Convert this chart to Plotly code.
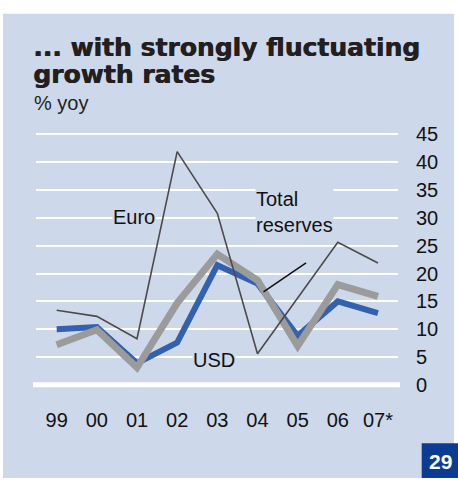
import plotly.graph_objects as go

# Annual growth of reserve holdings, % yoy
years = ["99", "00", "01", "02", "03", "04", "05", "06", "07*"]
euro = [13.4, 12.3, 8.3, 41.9, 30.8, 5.6, 15.6, 25.6, 21.9]
usd = [10.0, 10.4, 3.9, 7.6, 21.5, 18.2, 8.8, 15.0, 12.9]
total_reserves = [7.2, 9.9, 3.1, 14.7, 23.5, 18.8, 7.0, 18.0, 15.9]
y_ticks = [0, 5, 10, 15, 20, 25, 30, 35, 40, 45]

W, H = 458, 482
PANEL = "#cdd8ea"
FONT = "Liberation Sans"
TITLE_FONT = "DejaVu Sans"


def fx(px):
    return px / W


def fy(py):
    return 1 - py / H


x_idx = list(range(len(years)))

fig = go.Figure()
fig.add_trace(go.Scatter(x=x_idx, y=usd, mode="lines",
                         line=dict(color="#3461ae", width=6), hoverinfo="skip"))
fig.add_trace(go.Scatter(x=x_idx, y=total_reserves, mode="lines",
                         line=dict(color="#9b9b9b", width=7), hoverinfo="skip"))
fig.add_trace(go.Scatter(x=x_idx, y=euro, mode="lines",
                         line=dict(color="#4d4a4a", width=1.6), hoverinfo="skip"))

shapes = [
    # light blue panel
    dict(type="rect", xref="paper", yref="paper", x0=fx(3), x1=fx(454),
         y0=0, y1=fy(12), fillcolor=PANEL, line=dict(width=0), layer="below"),
    # thick zero line
    dict(type="line", xref="paper", yref="y", x0=fx(33), x1=fx(400),
         y0=0, y1=0, line=dict(color="white", width=5), layer="below"),
    # leader to the total reserves line
    dict(type="line", xref="x", yref="y", x0=5.15, y0=16.7, x1=6.21, y1=21.9,
         line=dict(color="#111111", width=1.5)),
    # page number badge
    dict(type="rect", xref="paper", yref="paper", x0=fx(421.7), x1=1,
         y0=0, y1=fy(446.7), fillcolor="#0b3b93", line=dict(width=0)),
]

title_font = dict(family=TITLE_FONT, size=25, color="#231f20",
                  shadow="0.7px 0 0 #231f20")

annotations = [
    dict(text="<b>... with strongly fluctuating</b>", xref="paper", yref="paper",
         x=fx(31), y=fy(46), xanchor="left", yanchor="middle", showarrow=False,
         font=title_font),
    dict(text="<b>growth rates</b>", xref="paper", yref="paper",
         x=fx(31), y=fy(73), xanchor="left", yanchor="middle", showarrow=False,
         font=title_font),
    dict(text="% yoy", xref="paper", yref="paper",
         x=fx(32), y=fy(102), xanchor="left", yanchor="middle", showarrow=False,
         font=dict(family=FONT, size=20, color="#231f20")),
    dict(text="Euro", x=1.93, y=30.2, showarrow=False, bgcolor=PANEL,
         borderpad=0, font=dict(family=FONT, size=20, color="#111111")),
    dict(text="USD", x=3.92, y=4.4, showarrow=False, bgcolor=PANEL,
         borderpad=0, font=dict(family=FONT, size=20, color="#111111")),
    dict(text="Total<br>reserves", x=4.93, y=31.1, xanchor="left", align="left",
         showarrow=False, bgcolor=PANEL, borderpad=0,
         font=dict(family=FONT, size=20, color="#111111")),
    dict(text="<b>29</b>", xref="paper", yref="paper", x=fx(440), y=fy(465),
         xanchor="center", yanchor="middle", showarrow=False,
         font=dict(family=FONT, size=21, color="white")),
]

fig.update_layout(
    width=W, height=H,
    margin=dict(l=0, r=0, t=0, b=0),
    paper_bgcolor="white",
    plot_bgcolor="rgba(0,0,0,0)",
    showlegend=False,
    shapes=shapes,
    annotations=annotations,
    font=dict(family=FONT, color="#111111"),
    xaxis=dict(domain=[fx(36), fx(398)], range=[-0.515, 8.499],
               tickmode="array", tickvals=x_idx, ticktext=years,
               showgrid=False, zeroline=False, showline=False,
               ticks="outside", ticklen=0, ticklabelstandoff=10,
               tickfont=dict(family=FONT, size=20, color="#111111"),
               fixedrange=True),
    yaxis=dict(domain=[fy(395), fy(125)], range=[-1.295, 46.60],
               side="right", tickmode="array", tickvals=y_ticks,
               showgrid=True, gridcolor="white", gridwidth=2,
               zeroline=False, showline=False,
               ticks="outside", ticklen=0, ticklabelstandoff=13,
               tickfont=dict(family=FONT, size=20, color="#111111"),
               fixedrange=True),
)

fig.write_html("out.html")
